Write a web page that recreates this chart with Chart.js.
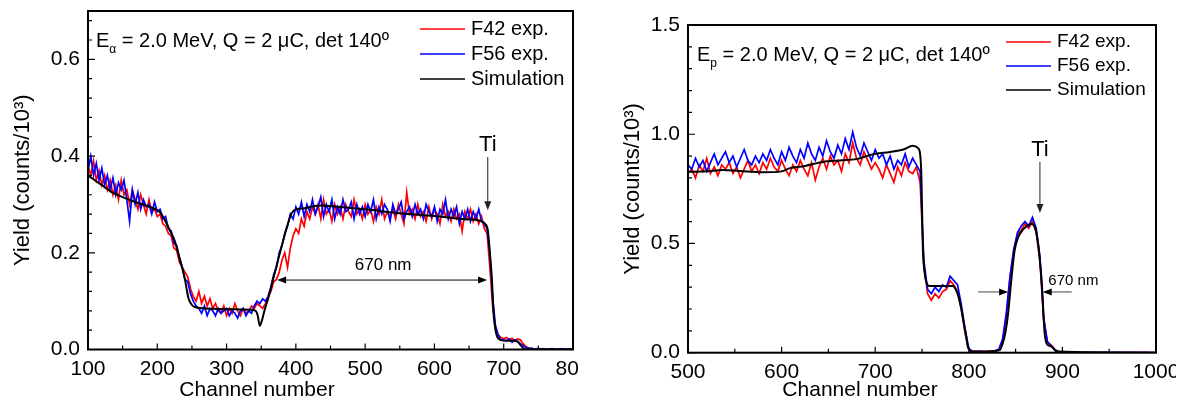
<!DOCTYPE html>
<html>
<head>
<meta charset="utf-8">
<script src="https://cdn.jsdelivr.net/npm/chart.js@4.4.1/dist/chart.umd.min.js"></script>
<style>
html, body { margin: 0; padding: 0; background: #fff; }
body { width: 1184px; height: 403px; position: relative; overflow: hidden; }
canvas { position: absolute; top: 0; }
#alpha-chart { left: 0; }
#proton-chart { left: 578px; }
</style>
</head>
<body>
<canvas id="alpha-chart" width="578" height="403"></canvas>
<canvas id="proton-chart" width="598" height="403"></canvas>
<script>
const FONT = '"Liberation Sans", Arial, Helvetica, sans-serif';

// ---- alpha spectrum (left), channels 100..800, every 4th channel
const alphaStart = 100;
const alphaStep = 4;
const alphaF42 = [
    0.38, 0.36, 0.39, 0.35, 0.37, 0.34, 0.36, 0.33, 0.35, 0.32,
    0.34, 0.31, 0.35, 0.32, 0.33, 0.30, 0.33, 0.31, 0.29, 0.32,
    0.30, 0.28, 0.31, 0.285, 0.29, 0.275, 0.28, 0.26, 0.255, 0.24,
    0.235, 0.21, 0.205, 0.18, 0.17, 0.16, 0.15, 0.125, 0.11, 0.10,
    0.12, 0.095, 0.11, 0.09, 0.105, 0.085, 0.095, 0.08, 0.075, 0.09,
    0.07, 0.085, 0.075, 0.095, 0.08, 0.07, 0.085, 0.075, 0.08, 0.09,
    0.085, 0.095, 0.09, 0.085, 0.095, 0.11, 0.12, 0.14, 0.145, 0.16,
    0.185, 0.20, 0.17, 0.21, 0.235, 0.25, 0.24, 0.27, 0.255, 0.285,
    0.27, 0.295, 0.28, 0.30, 0.27, 0.31, 0.28, 0.29, 0.265, 0.30,
    0.28, 0.295, 0.27, 0.30, 0.285, 0.275, 0.31, 0.28, 0.29, 0.27,
    0.30, 0.28, 0.29, 0.265, 0.295, 0.28, 0.31, 0.27, 0.285, 0.275,
    0.29, 0.27, 0.30, 0.28, 0.26, 0.325, 0.28, 0.29, 0.27, 0.30,
    0.275, 0.285, 0.265, 0.295, 0.27, 0.29, 0.28, 0.26, 0.30, 0.275,
    0.285, 0.265, 0.29, 0.27, 0.28, 0.245, 0.285, 0.27, 0.29, 0.265,
    0.28, 0.26, 0.275, 0.25, 0.24, 0.17, 0.09, 0.045, 0.03, 0.025,
    0.022, 0.025, 0.02, 0.023, 0.018, 0.022, 0.02, 0.012, 0.006, 0.003,
    0.002, 0.0, 0.001, 0.002, 0.0, 0.001, 0.0, 0.001, 0.002, 0.0, 0.001, 0.0, 0.001, 0.0, 0.001, 0.0,
];
const alphaF56 = [
    0.37, 0.40, 0.36, 0.385, 0.35, 0.375, 0.34, 0.36, 0.33, 0.355,
    0.32, 0.345, 0.33, 0.35, 0.31, 0.265, 0.33, 0.30, 0.325, 0.29,
    0.31, 0.295, 0.30, 0.28, 0.305, 0.285, 0.29, 0.27, 0.275, 0.25,
    0.245, 0.22, 0.215, 0.19, 0.17, 0.145, 0.14, 0.115, 0.10, 0.09,
    0.085, 0.075, 0.09, 0.07, 0.085, 0.08, 0.07, 0.085, 0.075, 0.08,
    0.085, 0.07, 0.08, 0.075, 0.065, 0.08, 0.085, 0.07, 0.08, 0.075,
    0.09, 0.10, 0.095, 0.105, 0.10, 0.11, 0.13, 0.155, 0.17, 0.20,
    0.215, 0.24, 0.255, 0.28, 0.27, 0.295, 0.28, 0.305, 0.275, 0.30,
    0.285, 0.31, 0.28, 0.295, 0.315, 0.275, 0.30, 0.285, 0.31, 0.27,
    0.295, 0.28, 0.31, 0.285, 0.29, 0.305, 0.27, 0.30, 0.28, 0.295,
    0.275, 0.30, 0.285, 0.31, 0.27, 0.295, 0.28, 0.30, 0.29, 0.265,
    0.30, 0.28, 0.29, 0.305, 0.27, 0.285, 0.295, 0.275, 0.30, 0.28,
    0.29, 0.27, 0.30, 0.285, 0.275, 0.295, 0.265, 0.29, 0.28, 0.31,
    0.27, 0.29, 0.275, 0.295, 0.26, 0.285, 0.27, 0.29, 0.265, 0.285,
    0.27, 0.29, 0.265, 0.26, 0.25, 0.20, 0.11, 0.05, 0.03, 0.02,
    0.02, 0.018, 0.022, 0.015, 0.02, 0.017, 0.012, 0.008, 0.004, 0.002,
    0.003, 0.001, 0.002, 0.0, 0.002, 0.001, 0.0, 0.002, 0.001, 0.0, 0.001, 0.002, 0.0, 0.001, 0.0, 0.001,
];
const alphaSimCh = [
    100, 120, 135, 150, 168, 185, 200, 205, 210, 218,
    225, 232, 240, 245, 250, 254, 270, 286, 310, 334,
    342, 345, 348, 351, 355, 361, 367, 372, 377, 382,
    387, 394, 401, 412, 425, 435, 460, 500, 550, 600,
    640, 666, 673, 677, 680, 683, 685, 689, 695, 705,
    713, 720, 726, 731, 740, 800,
];
const alphaSim = [
    0.36, 0.34, 0.325, 0.315, 0.305, 0.297, 0.288, 0.282, 0.27, 0.247,
    0.225, 0.19, 0.144, 0.106, 0.092, 0.088, 0.085, 0.084, 0.083, 0.082,
    0.08, 0.07, 0.049, 0.06, 0.082, 0.11, 0.144, 0.172, 0.2, 0.227,
    0.253, 0.282, 0.29, 0.292, 0.296, 0.298, 0.295, 0.29, 0.282, 0.276,
    0.27, 0.266, 0.26, 0.247, 0.2, 0.144, 0.082, 0.034, 0.02, 0.018,
    0.018, 0.016, 0.006, 0.0, 0.0, 0.0,
];

// ---- proton spectrum (right), channels 500..1000, every 4th channel
const protonStart = 500;
const protonStep = 4;
const protonF42 = [
    0.82, 0.84, 0.80, 0.86, 0.83, 0.89, 0.82, 0.85, 0.81, 0.86,
    0.84, 0.87, 0.82, 0.85, 0.80, 0.84, 0.88, 0.83, 0.86, 0.82,
    0.87, 0.84, 0.89, 0.85, 0.83, 0.88, 0.84, 0.81, 0.86, 0.83,
    0.88, 0.84, 0.81, 0.87, 0.79, 0.85, 0.89, 0.84, 0.90, 0.86,
    0.88, 0.83, 0.91, 0.87, 0.96, 0.89, 0.86, 0.92, 0.88, 0.84,
    0.87, 0.84, 0.80, 0.86, 0.82, 0.78, 0.85, 0.81, 0.87, 0.83,
    0.82, 0.85, 0.78, 0.40, 0.27, 0.24, 0.27, 0.25, 0.28, 0.29,
    0.33, 0.31, 0.28, 0.20, 0.09, 0.015, 0.006, 0.008, 0.004, 0.007,
    0.005, 0.008, 0.006, 0.012, 0.05, 0.16, 0.34, 0.47, 0.54, 0.56,
    0.59, 0.57, 0.60, 0.55, 0.42, 0.15, 0.05, 0.035, 0.015, 0.005,
    0.003, 0.001, 0.002, 0.0, 0.002, 0.001, 0.0, 0.001, 0.002, 0.0, 0.001, 0.0, 0.002,
    0.001, 0.0, 0.001, 0.0, 0.002, 0.001, 0.0, 0.001, 0.002, 0.0, 0.001, 0.0, 0.001,
];
const protonF56 = [
    0.86, 0.84, 0.89, 0.85, 0.88, 0.83, 0.87, 0.91, 0.86, 0.89,
    0.92, 0.87, 0.90, 0.85, 0.89, 0.93, 0.88, 0.86, 0.90, 0.87,
    0.91, 0.88, 0.93, 0.89, 0.86, 0.92, 0.88, 0.94, 0.90, 0.87,
    0.93, 0.89, 0.96, 0.91, 0.88, 0.94, 0.90, 0.97, 0.92, 0.89,
    0.95, 0.91, 0.98, 0.93, 1.01, 0.94, 0.90, 0.96, 0.92, 0.88,
    0.93, 0.89, 0.91, 0.86, 0.90, 0.84, 0.88, 0.86, 0.91, 0.85,
    0.89, 0.86, 0.83, 0.42, 0.29, 0.27, 0.30, 0.28, 0.31, 0.30,
    0.35, 0.33, 0.31, 0.22, 0.11, 0.02, 0.006, 0.004, 0.008, 0.003,
    0.006, 0.004, 0.009, 0.015, 0.06, 0.18, 0.35, 0.47, 0.55, 0.58,
    0.60, 0.58, 0.62, 0.57, 0.44, 0.16, 0.05, 0.03, 0.012, 0.004,
    0.001, 0.002, 0.0, 0.001, 0.003, 0.0, 0.001, 0.002, 0.0, 0.001, 0.0, 0.002, 0.001,
    0.0, 0.001, 0.002, 0.0, 0.001, 0.0, 0.002, 0.0, 0.001, 0.002, 0.0, 0.001, 0.0,
];
const protonSimCh = [
    500, 520, 537, 555, 580, 600, 609, 625, 644, 662,
    680, 698, 716, 730, 740, 746, 749, 751, 753, 755,
    758, 770, 783, 786, 789, 792, 794, 797, 799, 803,
    815, 833, 836, 839, 842, 844, 847, 849, 852, 855,
    862, 867, 871, 874, 876, 878, 881, 883, 886, 889,
    894, 1000,
];
const protonSim = [
    0.828, 0.83, 0.836, 0.832, 0.826, 0.83, 0.845, 0.855, 0.873, 0.88,
    0.886, 0.909, 0.919, 0.93, 0.947, 0.936, 0.85, 0.47, 0.36, 0.318,
    0.305, 0.305, 0.305, 0.29, 0.256, 0.2, 0.15, 0.08, 0.027, 0.005,
    0.004, 0.012, 0.04, 0.09, 0.18, 0.27, 0.4, 0.47, 0.52, 0.547,
    0.58, 0.589, 0.57, 0.5, 0.42, 0.318, 0.09, 0.044, 0.032, 0.027,
    0.005, 0.0,
];

const stepPoints = (start, step, ys) => ys.map((y, i) => ({ x: start + i * step, y }));
const pairPoints = (xs, ys) => xs.map((x, i) => ({ x, y: ys[i] }));

function arrow(ctx, x1, y1, x2, y2, len = 9, half = 3.5) {
    const a = Math.atan2(y2 - y1, x2 - x1);
    ctx.beginPath();
    ctx.moveTo(x1, y1);
    ctx.lineTo(x2 - Math.cos(a) * len * 0.8, y2 - Math.sin(a) * len * 0.8);
    ctx.stroke();
    ctx.beginPath();
    ctx.moveTo(x2, y2);
    ctx.lineTo(x2 - Math.cos(a) * len - Math.sin(a) * half, y2 - Math.sin(a) * len + Math.cos(a) * half);
    ctx.lineTo(x2 - Math.cos(a) * len + Math.sin(a) * half, y2 - Math.sin(a) * len - Math.cos(a) * half);
    ctx.closePath();
    ctx.fill();
}

// frame, inward ticks, legend and the labels drawn over the plot
const decor = {
    id: 'decor',
    afterDraw(chart, args, o) {
        const { ctx, chartArea: a, scales: { x, y } } = chart;
        ctx.save();
        ctx.strokeStyle = '#000';
        ctx.lineWidth = 1.2;
        ctx.beginPath();
        for (let k = 0; x.min + k * o.xMinor <= x.max; k++) {
            const px = x.getPixelForValue(x.min + k * o.xMinor);
            ctx.moveTo(px, a.bottom);
            ctx.lineTo(px, a.bottom - (k % 2 === 0 ? 6 : 4));
        }
        for (let k = 0; k * o.yMinor <= y.max + 1e-9; k++) {
            const py = y.getPixelForValue(k * o.yMinor);
            ctx.moveTo(a.left, py);
            ctx.lineTo(a.left + (k % 5 === 0 ? 7 : 4), py);
        }
        ctx.stroke();
        ctx.lineWidth = 2;
        ctx.strokeRect(a.left, a.top, a.right - a.left, a.bottom - a.top);

        // legend
        ctx.font = `${o.legend.size}px ${FONT}`;
        ctx.textBaseline = 'middle';
        ctx.textAlign = 'left';
        chart.data.datasets.forEach((ds, i) => {
            const ly = o.legend.y + i * o.legend.dy;
            ctx.strokeStyle = ds.borderColor;
            ctx.lineWidth = 1.5;
            ctx.beginPath();
            ctx.moveTo(o.legend.x, ly);
            ctx.lineTo(o.legend.x + 45, ly);
            ctx.stroke();
            ctx.fillStyle = '#000';
            ctx.fillText(ds.label, o.legend.x + 51, ly);
        });

        // beam note: E with subscript
        ctx.textBaseline = 'alphabetic';
        ctx.font = `20px ${FONT}`;
        ctx.fillText('E', o.note.x, o.note.y);
        let nx = o.note.x + ctx.measureText('E').width;
        ctx.font = `12px ${FONT}`;
        ctx.fillText(o.note.sub, nx, o.note.y + 6);
        nx += ctx.measureText(o.note.sub).width;
        ctx.font = `20px ${FONT}`;
        ctx.fillText(' = 2.0 MeV, Q = 2 \u03BCC, det 140\u00BA', nx, o.note.y);

        // x title
        ctx.font = `21px ${FONT}`;
        ctx.textAlign = 'center';
        ctx.textBaseline = 'middle';
        ctx.fillText('Channel number', o.xTitle.x, o.xTitle.y);

        // Ti marker
        const tx = x.getPixelForValue(o.ti.ch);
        ctx.font = `22px ${FONT}`;
        ctx.fillText('Ti', tx, y.getPixelForValue(o.ti.text));
        ctx.strokeStyle = '#222';
        ctx.fillStyle = '#222';
        ctx.lineWidth = 1;
        arrow(ctx, tx, y.getPixelForValue(o.ti.from), tx, y.getPixelForValue(o.ti.to));

        // thickness marker
        const w = o.width;
        const wy = y.getPixelForValue(w.y);
        ctx.strokeStyle = w.color;
        ctx.fillStyle = '#000';
        if (w.outward) {
            const mid = x.getPixelForValue((w.a + w.b) / 2);
            arrow(ctx, mid, wy, x.getPixelForValue(w.a), wy);
            arrow(ctx, mid, wy, x.getPixelForValue(w.b), wy);
        } else {
            arrow(ctx, x.getPixelForValue(w.a[0]), wy, x.getPixelForValue(w.a[1]), wy);
            arrow(ctx, x.getPixelForValue(w.b[0]), wy, x.getPixelForValue(w.b[1]), wy);
        }
        ctx.fillStyle = '#000';
        ctx.font = `${w.size}px ${FONT}`;
        ctx.textAlign = w.align;
        ctx.fillText('670 nm', x.getPixelForValue(w.textCh), y.getPixelForValue(w.textY));
        ctx.restore();
    },
};

function spectrumChart(canvas, cfg) {
    return new Chart(canvas, {
        type: 'line',
        data: {
            datasets: [
                { label: 'F42 exp.', data: cfg.f42, borderColor: '#ff0000', borderWidth: 1.7, pointRadius: 0, order: 2 },
                { label: 'F56 exp.', data: cfg.f56, borderColor: '#0000ff', borderWidth: 1.7, pointRadius: 0, order: 1 },
                { label: 'Simulation', data: cfg.sim, borderColor: '#000000', borderWidth: 2, pointRadius: 0, cubicInterpolationMode: 'monotone', order: 0 },
            ],
        },
        options: {
            responsive: false,
            animation: false,
            layout: { padding: { top: cfg.top, right: cfg.right, left: 0, bottom: 0 } },
            plugins: {
                legend: { display: false },
                tooltip: { enabled: false },
                decor: cfg.decor,
            },
            scales: {
                x: {
                    type: 'linear',
                    min: cfg.xMin,
                    max: cfg.xMax,
                    grid: { display: false, drawTicks: false },
                    border: { display: false },
                    ticks: {
                        stepSize: 100,
                        autoSkip: false,
                        maxRotation: 0,
                        padding: 7,
                        color: '#000',
                        font: { family: FONT, size: 21 },
                        callback: (v) => String(v),
                    },
                    afterFit: (s) => { s.height = cfg.xAxisH; s.paddingLeft = 0; s.paddingRight = 0; },
                },
                y: {
                    min: 0,
                    max: cfg.yMax,
                    grid: { display: false, drawTicks: false },
                    border: { display: false },
                    ticks: {
                        stepSize: cfg.yStep,
                        includeBounds: false,
                        padding: 8,
                        color: '#000',
                        font: { family: FONT, size: 21 },
                        callback: (v) => v.toFixed(1),
                    },
                    title: {
                        display: true,
                        text: 'Yield (counts/10\u00B3)',
                        color: '#000',
                        font: { family: FONT, size: 22 },
                        padding: { top: cfg.yTitlePad, bottom: 0 },
                    },
                    afterFit: (s) => { s.width = cfg.yAxisW; s.paddingTop = 0; s.paddingBottom = 0; },
                },
            },
        },
        plugins: [decor],
    });
}

spectrumChart(document.getElementById('alpha-chart'), {
    f42: stepPoints(alphaStart, alphaStep, alphaF42),
    f56: stepPoints(alphaStart, alphaStep, alphaF56),
    sim: pairPoints(alphaSimCh, alphaSim),
    xMin: 100, xMax: 800, yMax: 0.7, yStep: 0.2,
    top: 11, right: 5, xAxisH: 53.5, yAxisW: 88, yTitlePad: 10,
    decor: {
        xMinor: 50, yMinor: 0.04,
        legend: { x: 420, y: 29, dy: 25, size: 20 },
        note: { x: 96, y: 47, sub: '\u03B1' },
        xTitle: { x: 257, y: 390 },
        ti: { ch: 677, text: 0.4225, from: 0.398, to: 0.288 },
        width: { outward: true, a: 373, b: 676, y: 0.1436, color: '#000', textCh: 526, textY: 0.175, size: 17, align: 'center' },
    },
});

spectrumChart(document.getElementById('proton-chart'), {
    f42: stepPoints(protonStart, protonStep, protonF42),
    f56: stepPoints(protonStart, protonStep, protonF56),
    sim: pairPoints(protonSimCh, protonSim),
    xMin: 500, xMax: 1000, yMax: 1.5, yStep: 0.5,
    top: 25, right: 20, xAxisH: 50.3, yAxisW: 110, yTitlePad: 42,
    decor: {
        xMinor: 50, yMinor: 0.1,
        legend: { x: 428, y: 42, dy: 24, size: 19 },
        note: { x: 119, y: 61, sub: 'p' },
        xTitle: { x: 282, y: 390 },
        ti: { ch: 876, text: 0.928, from: 0.873, to: 0.64 },
        width: { outward: false, a: [810, 842], b: [910, 879], y: 0.278, color: '#444', textCh: 885, textY: 0.33, size: 15, align: 'left' },
    },
});
</script>
</body>
</html>
